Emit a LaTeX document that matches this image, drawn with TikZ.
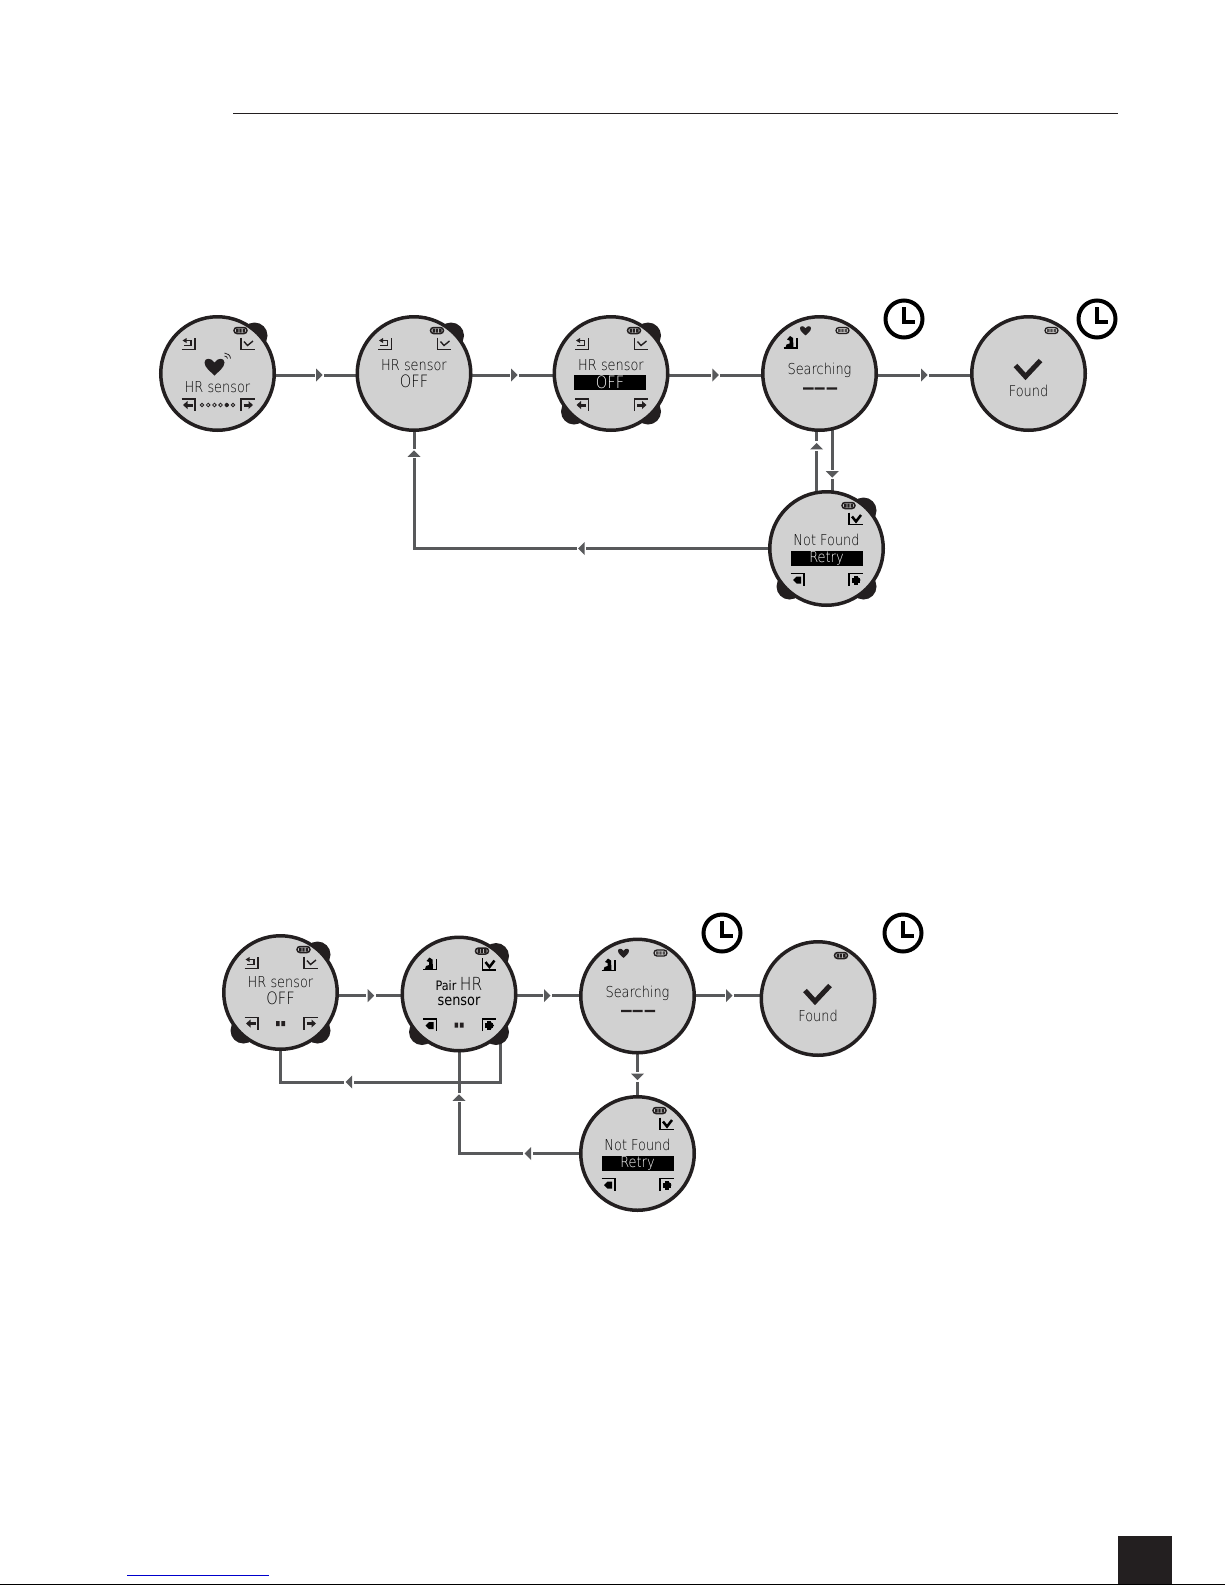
\documentclass[tikz,border=0pt]{standalone}
\usepackage{fontspec}
\usetikzlibrary{decorations.markings,backgrounds,calc}
\newfontfamily\lcd[FakeStretch=0.86]{DejaVu Sans ExtraLight}
\newfontfamily\lcdb[FakeStretch=0.86]{DejaVu Sans}
\definecolor{ink}{HTML}{231F20}
\definecolor{dialfill}{HTML}{D1D1D1}
\definecolor{wire}{HTML}{58595B}
\newcommand{\tipmark}{\fill[white] (-4.5,-8) rectangle (5,8);\fill[wire] (-3,-6.5) -- (3.5,0) -- (-3,6.5) -- cycle;}
\tikzset{
  dial/.style={circle,draw=ink,fill=dialfill,line width=3.5pt,minimum size=113.5pt,inner sep=0pt,outer sep=0pt},
  knob/.style={fill=ink},
  wireline/.style={draw=wire,line width=3pt,line join=miter},
  tipat/.style={postaction={decorate,decoration={markings,mark=at position #1 with {\tipmark}}}},
  lcdtext/.style={font=\lcd\fontsize{15}{15}\selectfont,text=black,inner sep=0pt},
  bigtext/.style={font=\lcd\fontsize{17}{17}\selectfont,text=black,inner sep=0pt},
  barlabel/.style={font=\lcd\fontsize{15}{15}\selectfont,fill=black,text=white,inner sep=0pt,minimum width=72pt,minimum height=15pt},
  thinic/.style={draw=ink,line width=1.2pt},
  boldic/.style={draw=black,line width=1.7pt},
  battery/.pic={\draw[ink,line width=1.5pt,rounded corners=3pt] (-6.5,-3) rectangle (6.5,3);
     \fill[ink] (-4.5,-2) rectangle (-2,2) (-1.2,-2) rectangle (1.2,2) (2,-2) rectangle (4.5,2);},
  batterylight/.pic={\draw[ink,line width=1.3pt,rounded corners=3pt] (-6.5,-3) rectangle (6.5,3);
     \fill[ink!80] (-4.5,-1.6) rectangle (-2,1.6) (-1.2,-1.6) rectangle (1.2,1.6) (2,-1.6) rectangle (4.5,1.6);},
  backicon/.pic={\draw[thinic] (-7,6) -- (6.5,6) -- (6.5,-6);
     \draw[thinic] (-3.5,-3) -- (2.5,-3) -- (2.5,2) -- (-5,2); \fill[ink] (-6,-3) -- (-2,-5.5) -- (-2,-.5) -- cycle;},
  backbold/.pic={\draw[boldic] (-7,5.5) -- (6.5,5.5) -- (6.5,-5);
     \fill[black] (-5,5) -- (-4,2) -- (-1,1) -- (-1,-2) -- (-3.5,-3) -- (-.5,-6.5) -- (2.5,-4.5) -- (3,5) -- cycle;},
  okicon/.pic={\draw[thinic] (-6.5,-6) -- (-6.5,6) -- (7,6);
     \draw[thinic,line width=1.4pt] (-3.5,-2) -- (0,2) -- (5.5,-2.5);},
  okbold/.pic={\draw[boldic] (-6.5,-6) -- (-6.5,6) -- (7,6);
     \draw[boldic,line width=2.5pt] (-3.5,-2) -- (.5,3) -- (5.5,-3.5);},
  lefticon/.pic={\draw[thinic] (-7,-6) -- (6.5,-6) -- (6.5,6);
     \draw[ink,line width=3pt] (-2,0) -- (4,0); \fill[ink] (-5.5,0) -- (-1,-4) -- (-1,4) -- cycle;},
  righticon/.pic={\draw[thinic] (-6.5,6) -- (-6.5,-6) -- (7,-6);
     \draw[ink,line width=3pt] (-4,0) -- (2,0); \fill[ink] (5.5,0) -- (1,-4) -- (1,4) -- cycle;},
  leftbold/.pic={\draw[boldic] (-7,-6) -- (6.5,-6) -- (6.5,6);
     \fill[black] (-4.5,.5) -- (-1,-3) -- (3.5,-3) -- (3.5,4) -- (-1,4) -- cycle;},
  rightbold/.pic={\draw[boldic] (-6.5,6) -- (-6.5,-6) -- (7,-6);
     \fill[black] (-4,-2) rectangle (4,3); \fill[black] (-2,-4) rectangle (2,5); \fill[black] (5,.5) -- (2,-3) -- (2,4) -- cycle;},
  heart/.pic={\fill[ink] (0,9) .. controls (-4,5) and (-10,1) .. (-10,-4) .. controls (-10,-9) and (-3,-9) .. (0,-4) .. controls (3,-9) and (10,-9) .. (10,-4) .. controls (10,1) and (4,5) .. (0,9) -- cycle;},
  clockicon/.pic={\draw[black,line width=4pt] (0,0) circle (18.5pt);
     \draw[black,line width=4pt] (-.5,-12) -- (-.5,3) -- (11,3);},
  bigcheck/.pic={\draw[ink,line width=5pt] (-13,-6) -- (-3,5) -- (12,-11);},
  dashes/.pic={\fill[ink] (-16.5,-1.2) rectangle (-6,1.2) (-5,-1.2) rectangle (5,1.2) (7,-1.2) rectangle (17.5,1.2);},
  dotsix/.pic={\foreach \q in {-15.5,-9.3,-3.1,3.1,9.3,15.5}{\draw[ink,line width=.8pt] (\q,0) circle (1.8pt);}\fill[ink] (9.3,0) circle (2pt);},
  dottwo/.pic={\fill[ink] (-4.5,-2.5) rectangle (-.8,2.5) (.8,-2.5) rectangle (4.5,2.5);},
}
\begin{document}
\begin{tikzpicture}[x=1pt,y=-1pt]
\useasboundingbox (0,0) rectangle (1225,1585);
% ---- page furniture
\draw[ink,line width=1pt] (233,113.5) -- (1118,113.5);
\fill[ink] (1118,1536) rectangle (1172,1584);
\draw[black,line width=1.5pt] (0,1584.3) -- (1225,1584.3);
\draw[blue!80!black,line width=1pt] (127,1575) -- (269,1575);
% ---- upper flow
\begin{scope}[shift={(217.5,373.5)}]
  \fill[knob] (37,-38) circle (13pt);
  \node[dial] (u1) at (0,0) {};
  \path (23,-43) pic {battery} (-29,-30) pic {backicon} (30,-30) pic {okicon}
        (-29,31.5) pic {lefticon} (30,31.5) pic {righticon} (0,31.5) pic {dotsix}
        (-3,-7) pic {heart};
  \draw[ink,line width=.8pt] (7,-20.5) .. controls (10,-20.5) and (13,-18) .. (13,-15)
        (7,-17.5) .. controls (8.5,-17.5) and (10,-16.5) .. (10,-15);
  \node[lcdtext] (u1t) at (0,14) {HR sensor};
\end{scope}
\begin{scope}[shift={(414,373.5)}]
  \fill[knob] (37,-38) circle (13pt);
  \node[dial] (u2) at (0,0) {};
  \path (23,-43) pic {battery} (-29,-30) pic {backicon} (30,-30) pic {okicon};
  \node[lcdtext] (u2t) at (0,-8) {HR sensor};
  \node[bigtext] (u2v) at (0,8) {OFF};
\end{scope}
\begin{scope}[shift={(611,373.5)}]
  \fill[knob] (37,-38) circle (13pt) (-37,38) circle (13pt) (37,38) circle (13pt);
  \node[dial] (u3) at (0,0) {};
  \path (23,-43) pic {battery} (-29,-30) pic {backicon} (30,-30) pic {okicon}
        (-29,31.5) pic {lefticon} (30,31.5) pic {righticon};
  \node[lcdtext] (u3t) at (0,-8) {HR sensor};
  \node[barlabel,font=\lcd\fontsize{17}{17}\selectfont] (u3v) at (-1,9) {OFF};
\end{scope}
\begin{scope}[shift={(819.5,373.5)}]
  \node[dial] (u4) at (0,0) {};
  \path (23,-43) pic {batterylight} (-29,-31) pic {backbold} (-14,-43) pic[scale=.55] {heart} (0,15) pic {dashes};
  \node[lcdtext] (u4t) at (0,-3) {Searching};
\end{scope}
\begin{scope}[shift={(1028.5,373.5)}]
  \node[dial] (u5) at (0,0) {};
  \path (23,-43) pic {batterylight} (0,-2) pic {bigcheck};
  \node[lcdtext] (u5t) at (0,17) {Found};
\end{scope}
\begin{scope}[shift={(826.5,548.5)}]
  \fill[knob] (37,-38) circle (13pt) (-37,38) circle (13pt) (37,38) circle (13pt);
  \node[dial] (u6) at (0,0) {};
  \path (22,-43) pic {battery} (29,-30) pic {okbold} (-29,31) pic {leftbold} (29,31) pic {rightbold};
  \node[lcdtext] (u6t) at (0,-9) {Not Found};
  \node[barlabel] (u6v) at (0,9.5) {Retry};
\end{scope}
\path (904,319) pic {clockicon} (1097,319) pic {clockicon};
% ---- lower flow
\begin{scope}[shift={(280.5,992.5)}]
  \fill[knob] (37,-38) circle (13pt) (-37,38) circle (13pt) (37,38) circle (13pt);
  \node[dial] (l1) at (0,0) {};
  \path (23,-43) pic {battery} (-29,-30) pic {backicon} (30,-30) pic {okicon}
        (-29,31) pic {lefticon} (30,31) pic {righticon} (0,31) pic {dottwo};
  \node[lcdtext] (l1t) at (0,-10) {HR sensor};
  \node[bigtext] (l1v) at (0,6) {OFF};
\end{scope}
\begin{scope}[shift={(459,994)}]
  \fill[knob] (37,-38) circle (13pt) (-37,38) circle (13pt) (37,38) circle (13pt);
  \node[dial] (l2) at (0,0) {};
  \path (23,-43) pic {battery} (-29,-30) pic {backbold} (30,-30) pic {okbold}
        (-29,31) pic {leftbold} (30,31) pic {rightbold} (0,31) pic {dottwo};
  \node[lcdtext,font=\lcdb\fontsize{13}{13}\selectfont] (l2t) at (0,-10) {Pair {\lcd\fontsize{18}{18}\selectfont HR}};
  \node[lcdtext,font=\lcdb\fontsize{15}{15}\selectfont] (l2v) at (0,7.5) {sensor};
\end{scope}
\begin{scope}[shift={(637.5,996)}]
  \node[dial] (l3) at (0,0) {};
  \path (23,-43) pic {batterylight} (-29,-31) pic {backbold} (-14,-43) pic[scale=.55] {heart} (0,15) pic {dashes};
  \node[lcdtext] (l3t) at (0,-3) {Searching};
\end{scope}
\begin{scope}[shift={(818,998.5)}]
  \node[dial] (l4) at (0,0) {};
  \path (23,-43) pic {battery} (0,-2) pic {bigcheck};
  \node[lcdtext] (l4t) at (0,17) {Found};
\end{scope}
\begin{scope}[shift={(637.5,1153.5)}]
  \node[dial] (l5) at (0,0) {};
  \path (22,-43) pic {battery} (29,-30) pic {okbold} (-29,31) pic {leftbold} (29,31) pic {rightbold};
  \node[lcdtext] (l5t) at (0,-9) {Not Found};
  \node[barlabel] (l5v) at (0,9.5) {Retry};
\end{scope}
\path (722,933) pic {clockicon} (903,933) pic {clockicon};
\coordinate (urow) at (0,375);
\coordinate (lmid) at (0,995.6);
\coordinate (bk) at (500,1036);
\coordinate (lrow) at (0,1082);
% ---- connectors and page background
\begin{scope}[on background layer]
  \fill[white] (0,0) rectangle (1225,1585);
  \draw[wireline,tipat=.517] (urow -| u1) -- (urow -| u2);
  \draw[wireline,tipat=.508] (urow -| u2) -- (urow -| u3);
  \draw[wireline,tipat=.5] (urow -| u3) -- (urow -| u4);
  \draw[wireline,tipat=.5] (urow -| u4) -- (urow -| u5);
  \draw[wireline,tipat=.72] (u4.-77.7) -- (u4.-77.7 |- u6.north);
  \draw[wireline,tipat=.74] (u6.100.3) -- (u6.100.3 |- u4.south);
  \draw[wireline,tipat=.397,tipat=.95] (u6.west) -| (u2.south);
  \draw[wireline,tipat=.505] (lmid -| l1) -- (lmid -| l2);
  \draw[wireline,tipat=.493] (lmid -| l2) -- (lmid -| l3);
  \draw[wireline,tipat=.507] (lmid -| l3) -- (lmid -| l4);
  \draw[wireline,tipat=.54] (l3) -- (l5);
  \draw[wireline,tipat=.66] (bk) |- (lrow -| l1.south) -- (l1.south);
  \draw[wireline,tipat=.234,tipat=.79] (l5.west) -| (l2.south);
\end{scope}
\end{tikzpicture}
\end{document}
